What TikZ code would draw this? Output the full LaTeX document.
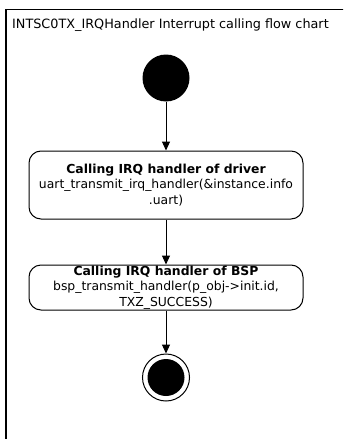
\documentclass[tikz,border=0pt]{standalone}
\usepackage{fontspec}
\setmainfont{DejaVu Sans}
\usetikzlibrary{arrows.meta}
\tikzset{
  action/.style={draw, rounded corners=12pt, minimum width=274pt, align=center,
    inner sep=0pt, line width=1pt, font=\fontsize{12.4}{15.5}\selectfont},
  flow/.style={-{Triangle[length=9pt,width=8pt]}, line width=1pt},
}
\begin{document}
\begin{tikzpicture}[x=1pt,y=-1pt]
  \useasboundingbox (0,0) rectangle (343,439);
  \clip (0,0) rectangle (343,439);
  % Frame and title
  \draw[line width=1.3pt] (6,460) -- (6,9.3) -- (360,9.3);
  \node[anchor=base west, inner sep=0pt, font=\fontsize{12.8}{15.5}\selectfont] (title) at (12,28.5)
    {INTSC0TX\_IRQHandler Interrupt calling flow chart};
  % Initial state
  \node[circle, fill, minimum size=47pt, inner sep=0pt] (start) at (166,78) {};
  % Actions
  \node[action, minimum height=68pt] (drv) at (166,185)
    {\textbf{Calling IRQ handler of driver}\\uart\_transmit\_irq\_handler(\&instance.info\\.uart)};
  \node[action, minimum height=45pt] (bsp) at (166,287.5)
    {\textbf{Calling IRQ handler of BSP}\\bsp\_transmit\_handler(p\_obj->init.id,\\TXZ\_SUCCESS)};
  % Final state
  \node[circle, draw, line width=1pt, minimum size=47pt, inner sep=0pt] (stop) at (166,377.5) {};
  \node[circle, fill, minimum size=37pt, inner sep=0pt] (stopdot) at (stop) {};
  % Flow
  \draw[flow] (start) -- (drv);
  \draw[flow] (drv) -- (bsp);
  \draw[flow] (bsp) -- (stop);
\end{tikzpicture}
\end{document}
